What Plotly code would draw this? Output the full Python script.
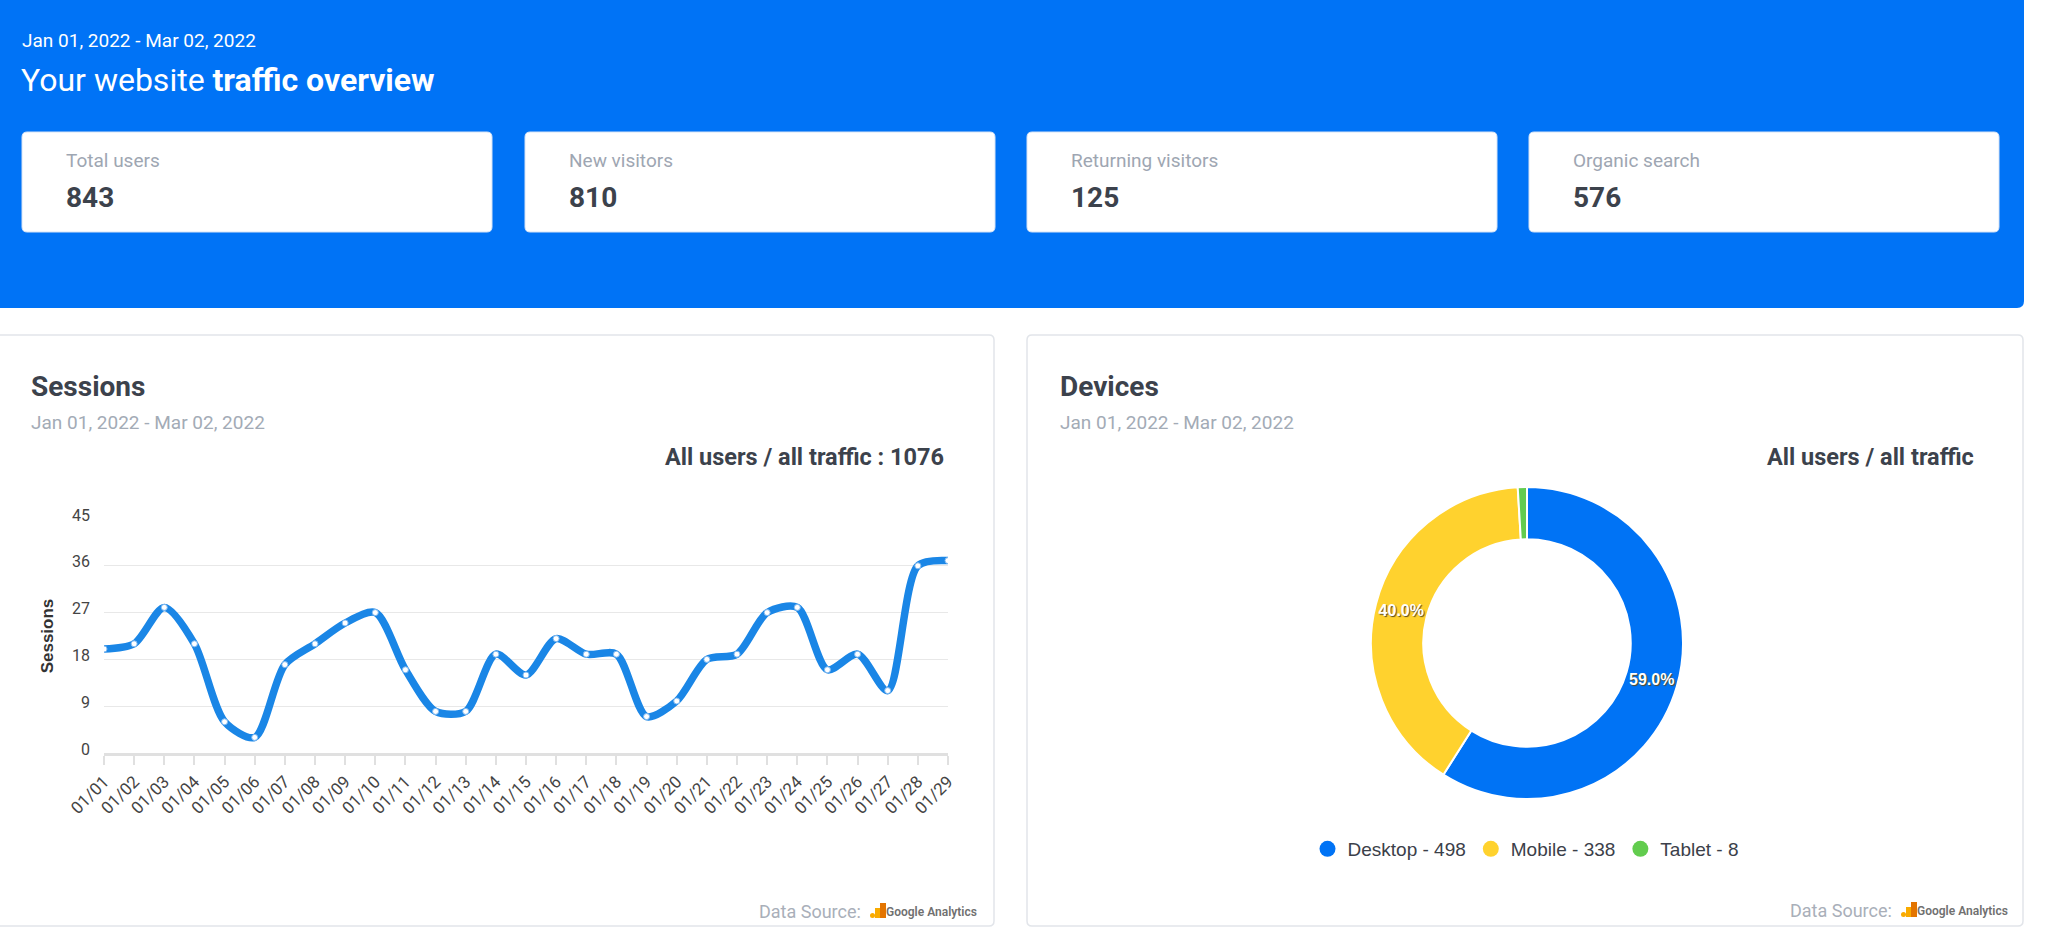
import plotly.graph_objects as go

W, H = 2048, 939

# ---------------- data ----------------
date_range = "Jan 01, 2022 - Mar 02, 2022"
kpi_labels = ["Total users", "New visitors", "Returning visitors", "Organic search"]
kpi_values = [843, 810, 125, 576]

dates = ["01/01", "01/02", "01/03", "01/04", "01/05", "01/06", "01/07", "01/08",
         "01/09", "01/10", "01/11", "01/12", "01/13", "01/14", "01/15", "01/16",
         "01/17", "01/18", "01/19", "01/20", "01/21", "01/22", "01/23", "01/24",
         "01/25", "01/26", "01/27", "01/28", "01/29"]
sessions = [20, 21, 28, 21, 6, 3, 17, 21, 25, 27, 16, 8, 8, 19, 15, 22,
            19, 19, 7, 10, 18, 19, 27, 28, 16, 19, 12, 36, 37]
sessions_total = 1076
y_ticks = [0, 9, 18, 27, 36, 45]

device_labels = ["Desktop", "Mobile", "Tablet"]
device_values = [498, 338, 8]
device_colors = ["#0073F5", "#FFD22E", "#62CC4E"]

# ---------------- helpers ----------------
def px(x):
    return x / W

def py(y):
    return 1 - y / H

def rrect(x0, y0, x1, y1, r):
    rx, ry = r / W, r / H
    X0, X1 = px(x0), px(x1)
    YT, YB = py(y0), py(y1)
    return (f"M {X0+rx},{YT} L {X1-rx},{YT} Q {X1},{YT} {X1},{YT-ry} "
            f"L {X1},{YB+ry} Q {X1},{YB} {X1-rx},{YB} L {X0+rx},{YB} "
            f"Q {X0},{YB} {X0},{YB+ry} L {X0},{YT-ry} Q {X0},{YT} {X0+rx},{YT} Z")

HEADER_BLUE = "#0073F6"
LINE_BLUE = "#1A86E6"
DARK = "#3C424C"
GRAY = "#A3ABB6"

shapes = []
annotations = []

def ann(text, x, y, size, color, family="Roboto", xanchor="left", weight=None):
    f = dict(family=family, size=size, color=color)
    if weight:
        f["weight"] = weight
    annotations.append(dict(text=text, x=px(x), y=py(y), xref="paper", yref="paper",
                            xanchor=xanchor, yanchor="middle", showarrow=False, font=f))

# header
shapes.append(dict(type="path", path=rrect(-20, -20, 2024, 308, 7), xref="paper", yref="paper",
                   fillcolor=HEADER_BLUE, line=dict(width=0), layer="below"))
ann(date_range, 20, 40, 19, "white")
ann("Your website <b>traffic overview</b>", 19, 80, 32, "white")

# KPI cards
card_x = [22, 525, 1027, 1529]
card_w = 470
for cx, lab, val in zip(card_x, kpi_labels, kpi_values):
    shapes.append(dict(type="path", path=rrect(cx, 132, cx + card_w, 232, 5), xref="paper", yref="paper",
                       fillcolor="white", line=dict(color="#D5E3F6", width=1), layer="below"))
    ann(lab, cx + 42, 160, 19, "#9EA6B2")
    ann(f"<b>{val}</b>", cx + 42, 197, 28, DARK)

# panels
panels = [(-20, 994), (1027, 2023)]
for x0, x1 in panels:
    shapes.append(dict(type="path", path=rrect(x0, 335, x1, 926, 5), xref="paper", yref="paper",
                       fillcolor="white", line=dict(color="#E2E5EA", width=1.5), layer="below"))

ann("<b>Sessions</b>", 29, 386, 28, DARK)
ann(date_range, 29, 423, 19, GRAY)
ann(f"<b>All users / all traffic : {sessions_total}</b>", 946, 457, 23.5, DARK, xanchor="right")

ann("<b>Devices</b>", 1058, 386, 28, DARK)
ann(date_range, 1058, 423, 19, GRAY)
ann("<b>All users / all traffic</b>", 1976, 457, 23.5, DARK, xanchor="right")

# data source footers
def footer(x_right, y):
    ann("Google Analytics", x_right, y + 1, 12, "#707070", xanchor="right", weight=600)
    lx = x_right - 109  # logo left
    shapes.append(dict(type="circle", xref="paper", yref="paper",
                       x0=px(lx), x1=px(lx + 5), y0=py(y + 7), y1=py(y + 2),
                       fillcolor="#F9AB00", line=dict(width=0)))
    shapes.append(dict(type="rect", xref="paper", yref="paper",
                       x0=px(lx + 5), x1=px(lx + 10), y0=py(y + 7), y1=py(y - 3),
                       fillcolor="#F9AB00", line=dict(width=0)))
    shapes.append(dict(type="rect", xref="paper", yref="paper",
                       x0=px(lx + 10), x1=px(lx + 16), y0=py(y + 7), y1=py(y - 8),
                       fillcolor="#E37400", line=dict(width=0)))
    ann("Data Source:", lx - 7, y, 18, "#A9AFB9", xanchor="right")

footer(979, 911)
footer(2010, 910)

# ---------------- traces ----------------
fig = go.Figure()

fig.add_trace(go.Scatter(
    x=dates, y=sessions, mode="lines+markers",
    line=dict(color=LINE_BLUE, width=7.5, shape="spline", smoothing=0.8),
    marker=dict(size=6, color="white", line=dict(color="#7FB8F0", width=1)),
    showlegend=False,
    hovertemplate="%{x}: %{y}<extra></extra>",
))

total_dev = sum(device_values)
fig.add_trace(go.Pie(
    labels=device_labels, values=device_values, hole=0.665, sort=False,
    direction="clockwise", rotation=0,
    marker=dict(colors=device_colors, line=dict(color="white", width=2)),
    texttemplate="%{percent:.1%}",
    textposition=["inside" if v / total_dev > 0.05 else "none" for v in device_values],
    insidetextorientation="horizontal",
    textfont=dict(family="Liberation Sans", size=16, color="white", weight="bold",
                  shadow="1px 1px 1px #5a4a20"),
    showlegend=False,
    domain=dict(x=[px(1527 - 156), px(1527 + 156)], y=[py(643 + 156), py(643 - 156)]),
))

# legend entries (circle markers)
for lab, val, col in zip(device_labels, device_values, device_colors):
    fig.add_trace(go.Scatter(
        x=[None], y=[None], mode="markers", name=f"{lab} - {val}",
        marker=dict(size=16, color=col, symbol="circle"),
        showlegend=True, hoverinfo="skip",
    ))

fig.update_layout(
    width=W, height=H, autosize=False,
    margin=dict(l=0, r=0, t=0, b=0, pad=0, autoexpand=False),
    paper_bgcolor="white", plot_bgcolor="white",
    shapes=shapes, annotations=annotations,
    xaxis=dict(
        domain=[px(104), px(948)], anchor="y", type="category",
        range=[0, len(dates) - 1], automargin=False,
        showgrid=False, showline=True, linecolor="#E0E0E0", linewidth=3,
        ticks="outside", ticklen=9, tickcolor="#E0E0E0", tickwidth=1.5,
        tickangle=-45, tickfont=dict(family="Roboto", size=17, color="#444"),
        fixedrange=True,
    ),
    yaxis=dict(
        domain=[py(753), py(519)], anchor="x",
        range=[0, 45], tickvals=y_ticks, automargin=False,
        showgrid=True, gridcolor="#E8E8E8", gridwidth=1,
        zeroline=False, showline=False, ticks="",
        ticklabelstandoff=13, ticklabelshift=-4,
        tickfont=dict(family="Roboto", size=16, color="#444"),
        title=dict(text="<b>Sessions</b>", standoff=14,
                   font=dict(family="Liberation Sans", size=17, color="#333")),
        fixedrange=True,
    ),
    legend=dict(
        orientation="h", x=px(1526), y=py(849), xanchor="center", yanchor="middle",
        font=dict(family="Liberation Sans", size=19, color="#3B4049"),
        bgcolor="rgba(0,0,0,0)", itemclick=False, itemdoubleclick=False,
    ),
)

fig.write_html("out.html")
